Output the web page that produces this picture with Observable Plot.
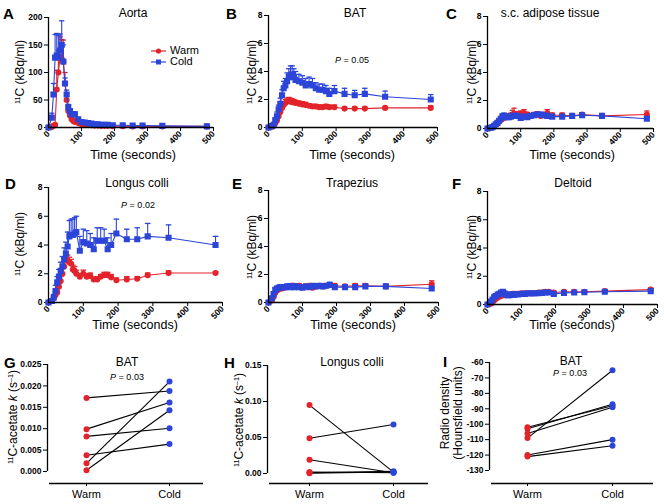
<!DOCTYPE html>
<html><head><meta charset="utf-8">
<script src="https://cdn.jsdelivr.net/npm/d3@7"></script>
<script src="https://cdn.jsdelivr.net/npm/@observablehq/plot@0.6"></script>
<style>
body{margin:0;background:#fff;}
#root{position:relative;width:664px;height:504px;overflow:hidden;font-family:"Liberation Sans",Arial,sans-serif;color:#000;font-weight:normal;}
#root svg{position:absolute;background:transparent !important;overflow:visible;}
.t{position:absolute;white-space:nowrap;transform:translate(-50%,-50%);font-weight:normal;}
.rot{position:absolute;white-space:nowrap;transform:translate(-50%,-50%) rotate(-90deg);font-size:12px;line-height:13px;text-align:center;font-weight:normal;}
.letter{position:absolute;font-weight:bold;font-size:15px;transform:translate(0,-50%);}
.title{font-size:12px;}
.xl{font-size:12.5px;}
.p{font-size:9px;}
sup{font-size:0.6em;vertical-align:0.55em;line-height:0;}
</style></head>
<body><div id="root"></div>
<script>
const T = [0,10,15,20,25,30,35,40,45,50,55,60,65,70,75,80,90,100,110,120,130,140,150,160,170,180,195,225,255,285,345,480];

const aortaWarm    = [0,1,3,5,69,100,128,125,119,80,50,30,22,15,12,10,8,6,5,4.5,4,3.5,3.5,3,3,3,2.5,2.5,2,2,2,2];
const aortaWarmSem = [0,0.5,1,2,35,40,37,35,40,20,12,8,5,3,3,2,2,1,1,1,1,1,1,1,1,1,1,1,1,1,1,1];
const aortaCold    = [0,18,60,127,131,128,140,150,120,80,60,37,30,24,24,24,15,10,9,8,7,6,6,5,5,5,4,4,3.5,3.5,3,2];
const aortaColdSem = [0,8,20,42,40,40,30,44,30,10,8,5,4,4,4,4,3,2,2,2,1,1,1,1,1,1,1,1,1,1,1,1];

const batWarm    = [0,0.05,0.1,0.3,0.5,0.8,1.1,1.4,1.6,1.75,1.85,1.9,1.85,1.8,1.8,1.75,1.7,1.65,1.6,1.55,1.5,1.5,1.45,1.45,1.5,1.45,1.45,1.35,1.35,1.35,1.4,1.4];
const batWarmSem = [0,0.05,0.05,0.1,0.1,0.15,0.15,0.2,0.2,0.25,0.25,0.25,0.25,0.25,0.2,0.2,0.2,0.2,0.2,0.15,0.15,0.15,0.15,0.15,0.15,0.15,0.15,0.1,0.1,0.1,0.05,0.15];
const batCold    = [0,0.1,0.2,0.5,0.8,1.3,1.7,2.3,2.8,3.0,3.3,3.6,3.7,3.8,3.6,3.4,3.3,3.2,3.0,3.1,3.0,2.8,2.7,2.7,2.6,2.4,2.6,2.4,2.3,2.4,2.2,2.0];
const batColdSem = [0,0.1,0.1,0.2,0.3,0.3,0.4,0.4,0.5,0.5,0.6,0.6,0.7,0.6,0.6,0.6,0.5,0.5,0.5,0.5,0.5,0.4,0.4,0.4,0.4,0.4,0.4,0.4,0.35,0.4,0.4,0.35];

const scWarm    = [0,0.05,0.1,0.2,0.3,0.4,0.5,0.6,0.7,0.75,0.8,0.85,0.85,0.9,1.0,1.05,1.0,1.05,1.1,1.0,0.9,0.95,1.0,0.9,0.95,1.1,0.95,0.95,0.9,1.0,0.9,1.0];
const scWarmSem = [0,0.02,0.05,0.05,0.05,0.1,0.1,0.1,0.1,0.15,0.15,0.2,0.2,0.2,0.3,0.4,0.2,0.2,0.25,0.15,0.15,0.2,0.2,0.2,0.2,0.25,0.15,0.15,0.1,0.1,0.1,0.25];
const scCold    = [0,0.05,0.1,0.2,0.3,0.4,0.55,0.7,0.85,0.9,0.85,0.8,0.8,0.85,0.9,0.9,0.9,0.75,0.85,0.8,0.9,0.95,1.0,1.0,0.95,0.9,0.85,0.85,0.9,0.95,0.9,0.7];
const scColdSem = [0,0.02,0.05,0.05,0.05,0.1,0.1,0.15,0.2,0.2,0.15,0.15,0.1,0.1,0.15,0.15,0.15,0.15,0.15,0.15,0.15,0.15,0.15,0.15,0.15,0.15,0.1,0.1,0.1,0.15,0.1,0.1];

const lcWarm    = [0,0.1,0.3,0.5,0.7,1.1,1.5,2.0,2.5,3.0,2.9,2.8,2.7,2.3,2.2,2.0,1.8,2.0,1.8,1.85,1.6,1.6,1.8,1.9,1.9,1.75,1.55,1.6,1.65,1.9,2.05,2.05];
const lcWarmSem = [0,0.05,0.1,0.1,0.15,0.2,0.3,0.4,0.4,0.5,0.4,0.35,0.3,0.3,0.3,0.25,0.2,0.25,0.2,0.2,0.15,0.2,0.15,0.2,0.2,0.2,0.15,0.2,0.15,0.15,0.15,0.1];
const lcCold    = [0,0.1,0.35,0.8,1.4,1.8,2.2,2.5,3.0,3.4,3.9,4.6,4.7,4.7,4.8,4.9,3.6,4.2,4.1,4.0,3.7,4.3,4.3,4.3,3.7,4.0,4.8,4.4,4.4,4.6,4.5,4.0];
const lcColdSem = [0,0.1,0.2,0.4,0.4,0.5,0.6,0.7,0.8,0.8,1.0,1.1,1.1,1.1,1.1,1.1,1.0,0.9,0.9,0.8,0.8,0.9,0.9,0.8,0.8,0.8,1.0,0.7,0.8,0.9,0.9,0.6];

const trWarm    = [0,0.15,0.4,0.7,0.85,0.95,1.0,1.0,1.05,1.1,1.1,1.15,1.15,1.2,1.2,1.15,1.2,1.1,1.15,1.2,1.05,1.15,1.2,1.15,1.2,1.25,1.2,1.15,1.2,1.2,1.15,1.3];
const trWarmSem = [0,0.05,0.1,0.1,0.1,0.1,0.1,0.1,0.1,0.1,0.1,0.1,0.1,0.15,0.15,0.1,0.15,0.15,0.1,0.1,0.1,0.1,0.1,0.1,0.1,0.1,0.15,0.1,0.15,0.15,0.1,0.25];
const trCold    = [0,0.3,0.6,0.9,1.0,1.05,1.1,1.1,1.1,1.1,1.15,1.15,1.1,1.15,1.1,1.15,1.1,1.05,1.15,1.1,1.2,1.15,1.2,1.15,1.2,1.25,1.1,1.1,1.1,1.15,1.15,1.0];
const trColdSem = [0,0.1,0.15,0.15,0.15,0.1,0.1,0.1,0.1,0.1,0.1,0.1,0.1,0.1,0.1,0.1,0.1,0.1,0.1,0.1,0.1,0.15,0.1,0.15,0.15,0.2,0.1,0.15,0.1,0.1,0.15,0.1];

const deWarm    = [0,0.05,0.15,0.3,0.4,0.5,0.55,0.6,0.65,0.65,0.65,0.7,0.7,0.7,0.75,0.75,0.75,0.8,0.8,0.8,0.8,0.8,0.85,0.85,0.9,0.9,0.85,0.9,0.9,0.9,0.95,1.05];
const deWarmSem = [0,0.02,0.05,0.05,0.05,0.05,0.05,0.05,0.05,0.05,0.05,0.05,0.05,0.05,0.05,0.05,0.05,0.05,0.05,0.05,0.05,0.05,0.05,0.05,0.05,0.05,0.05,0.05,0.05,0.05,0.05,0.1];
const deCold    = [0,0.2,0.35,0.55,0.6,0.7,0.75,0.85,0.9,0.8,0.7,0.65,0.65,0.7,0.7,0.7,0.72,0.75,0.75,0.8,0.78,0.8,0.8,0.82,0.85,0.85,0.75,0.82,0.85,0.87,0.9,0.95];
const deColdSem = [0,0.05,0.1,0.1,0.1,0.1,0.1,0.1,0.15,0.1,0.05,0.05,0.05,0.05,0.05,0.05,0.05,0.05,0.05,0.05,0.05,0.05,0.05,0.05,0.05,0.05,0.05,0.05,0.05,0.05,0.05,0.1];

const groups = ["Warm","Cold"];
const gBatWarm = [0.0172,0.0099,0.0082,0.0038,0.0019,0.0003];
const gBatCold = [0.0188,0.0161,0.0101,0.0064,0.0210,0.0143];
const hLcWarm  = [0.095,0.049,0.019,0.002,0.001,0.0005];
const hLcCold  = [0.002,0.068,0.001,0.001,0.003,0.002];
const iHuWarm  = [-102,-103,-106,-109,-120,-121];
const iHuCold  = [-88,-87,-89,-65,-110,-114];

const timeTicks = [0,100,200,300,400,500];
const kbqTicks8 = [0,2,4,6,8];
const kbqTicks200 = [0,50,100,150,200];
const gTicks = [0,0.005,0.01,0.015,0.02,0.025];
const hTicks = [0,0.05,0.1,0.15];
const iTicks = [-130,-120,-110,-100,-90,-80,-70,-60];

const RED = "#e3232b", BLUE = "#2c45d8";
const root = document.getElementById("root");
const FONT = "Liberation Sans, Arial, sans-serif";

function rows(v, e){ return T.map((t,i)=>({t, v:v[i], e:e[i]})); }

function series(data, color, symbol, r){
  return [
    Plot.ruleX(data, {x:"t", y1:"v", y2:d=>d.v+d.e, stroke:color, strokeWidth:1.1}),
    Plot.link(data, {x1:d=>d.t-8, x2:d=>d.t+8, y1:d=>d.v+d.e, y2:d=>d.v+d.e, stroke:color, strokeWidth:1.3}),
    Plot.line(data, {x:"t", y:"v", stroke:color, strokeWidth:1.1}),
    Plot.dot(data, {x:"t", y:"v", fill:color, stroke:color, symbol, r})
  ];
}

const ML=45, MR=12, MT=10, MB=38;
function place(svg, left, top){ svg.style.left=left+"px"; svg.style.top=top+"px"; root.appendChild(svg); }

function timePanel(f, ymax, yticks, warm, warmE, cold, coldE){
  const svg = Plot.plot({
    width:(f.x1-f.x0)+ML+MR, height:(f.y0-f.y1)+MT+MB,
    marginLeft:ML, marginRight:MR, marginTop:MT, marginBottom:MB,
    x:{domain:[0,500]}, y:{domain:[0,ymax]},
    style:{fontFamily:FONT, fontSize:"8.5px", fontWeight:"bold", overflow:"visible", background:"transparent"},
    marks:[
      Plot.axisY({ticks:yticks, tickSize:4, tickPadding:2, label:null, tickFormat:d=>String(d)}),
      Plot.axisX({ticks:timeTicks, tickSize:4, tickPadding:1, tickRotate:-45, label:null, tickFormat:d=>String(d)}),
      ...series(rows(warm,warmE), RED, "circle", 2.3),
      ...series(rows(cold,coldE), BLUE, "square", 2.6),
      Plot.ruleX([0], {stroke:"#000", strokeWidth:1.3}),
      Plot.ruleY([0], {stroke:"#000", strokeWidth:1.3})
    ]
  });
  place(svg, f.x0-ML, f.y1-MT);
}

function pairPanel(f, yticks, fmt, warm, cold){
  const [bot, top] = [yticks[0], yticks[yticks.length-1]];
  const ext = bot - (f.axisY - f.yb) * (top-bot)/(f.yb - f.yt);
  const sx = f.xc - f.xw;
  const xd = [(f.x0-f.xw)/sx, (f.x1-f.xw)/sx];
  const xs = (f.x0+2-f.xw)/sx;
  const data = warm.map((w,i)=>({w, c:cold[i]}));
  const svg = Plot.plot({
    width:(f.x1-f.x0)+ML+MR, height:(f.axisY-f.yt)+MT+MB,
    marginLeft:ML, marginRight:MR, marginTop:MT, marginBottom:MB,
    x:{domain:xd}, y:{domain:[ext, top]},
    style:{fontFamily:FONT, fontSize:"8.5px", fontWeight:"bold", overflow:"visible", background:"transparent"},
    marks:[
      Plot.axisY({ticks:yticks, tickSize:4, tickPadding:2, label:null, tickFormat:fmt}),
      Plot.axisX({ticks:[0,1], tickSize:3, tickPadding:4, label:null, tickFormat:d=>groups[d], fontSize:11, fontWeight:"normal"}),
      Plot.ruleX([xd[0]], {y1:bot, y2:top, stroke:"#000", strokeWidth:1.3}),
      Plot.ruleY([ext], {x1:xs, x2:xd[1], stroke:"#000", strokeWidth:1.3}),
      Plot.link(data, {x1:()=>0, x2:()=>1, y1:"w", y2:"c", stroke:"#000", strokeWidth:1.1}),
      Plot.dot(data, {x:()=>0, y:"w", fill:RED, r:3}),
      Plot.dot(data, {x:()=>1, y:"c", fill:BLUE, r:3})
    ]
  });
  place(svg, f.x0-ML, f.yt-MT);
}

timePanel({x0:48, x1:213, y0:127, y1:17}, 200, kbqTicks200, aortaWarm, aortaWarmSem, aortaCold, aortaColdSem);
timePanel({x0:268, x1:437, y0:127, y1:15}, 8, kbqTicks8, batWarm, batWarmSem, batCold, batColdSem);
timePanel({x0:487, x1:653, y0:128, y1:16}, 8, kbqTicks8, scWarm, scWarmSem, scCold, scColdSem);
timePanel({x0:48, x1:222, y0:302, y1:187}, 8, kbqTicks8, lcWarm, lcWarmSem, lcCold, lcColdSem);
timePanel({x0:268, x1:438, y0:302, y1:190}, 8, kbqTicks8, trWarm, trWarmSem, trCold, trColdSem);
timePanel({x0:487, x1:657, y0:304, y1:191}, 8, kbqTicks8, deWarm, deWarmSem, deCold, deColdSem);

pairPanel({x0:47, x1:203, xw:86, xc:169, yt:364, yb:471, axisY:483}, gTicks, d=>d.toFixed(3), gBatWarm, gBatCold);
pairPanel({x0:267, x1:428, xw:309, xc:393, yt:365, yb:473, axisY:483}, hTicks, d=>d.toFixed(2), hLcWarm, hLcCold);
pairPanel({x0:489, x1:653, xw:527, xc:612, yt:362, yb:470, axisY:483}, iTicks, d=>String(d), iHuWarm, iHuCold);

function txt(html, x, y, cls){ const d=document.createElement("div"); d.className=cls; d.innerHTML=html; d.style.left=x+"px"; d.style.top=y+"px"; root.appendChild(d); return d; }

[["A",3,13],["B",226,13],["C",446,13],["D",5,183],["E",232,183],["F",452,183],["G",4,362],["H",224,362],["I",443,361]].forEach(([l,x,y])=>txt(l,x,y,"letter"));
[["Aorta",133,13],["BAT",355,13],["s.c. adipose tissue",550,13],["Longus colli",137,183],["Trapezius",352,183],["Deltoid",573,183],["BAT",127,362],["Longus colli",352,362],["BAT",571,361]].forEach(([s,x,y])=>txt(s,x,y,"t title"));
[[133,155],[352,155],[572,155],[135,325],[353,325],[572,325]].forEach(([x,y])=>txt("Time (seconds)",x,y,"t xl"));
[[20,72],[252,72],[472,72],[20,244],[252,247],[472,247]].forEach(([x,y])=>txt("<sup>11</sup>C (kBq/ml)",x,y,"rot"));
txt("<sup>11</sup>C-acetate <i>k</i> (s<sup>–1</sup>)",13,417,"rot");
txt("<sup>11</sup>C-acetate <i>k</i> (s<sup>–1</sup>)",239,420,"rot");
txt("Radio density<br>(Hounsfield units)",452,413,"rot");
[[352,60,"0.05"],[138,205,"0.02"],[127,377,"0.03"],[570,373,"0.03"]].forEach(([x,y,v])=>txt("<i>P</i> = "+v,x,y,"t p"));

function legendItem(label, color, square, y){
  const d=document.createElement("div");
  d.style.cssText=`position:absolute;left:150px;top:${y-7}px;font-size:11px;line-height:14px;white-space:nowrap;font-weight:normal;`;
  const mk = square ? `<rect x="6" y="3.5" width="5" height="5" fill="${color}"/>` : `<circle cx="8.5" cy="6" r="2.6" fill="${color}"/>`;
  d.innerHTML=`<svg width="17" height="12" style="position:relative;vertical-align:middle;overflow:visible"><line x1="1" x2="16" y1="6" y2="6" stroke="${color}" stroke-width="1.2"/>${mk}</svg> ${label}`;
  root.appendChild(d);
}
legendItem("Warm", RED, false, 50);
legendItem("Cold", BLUE, true, 61);
</script></body></html>
